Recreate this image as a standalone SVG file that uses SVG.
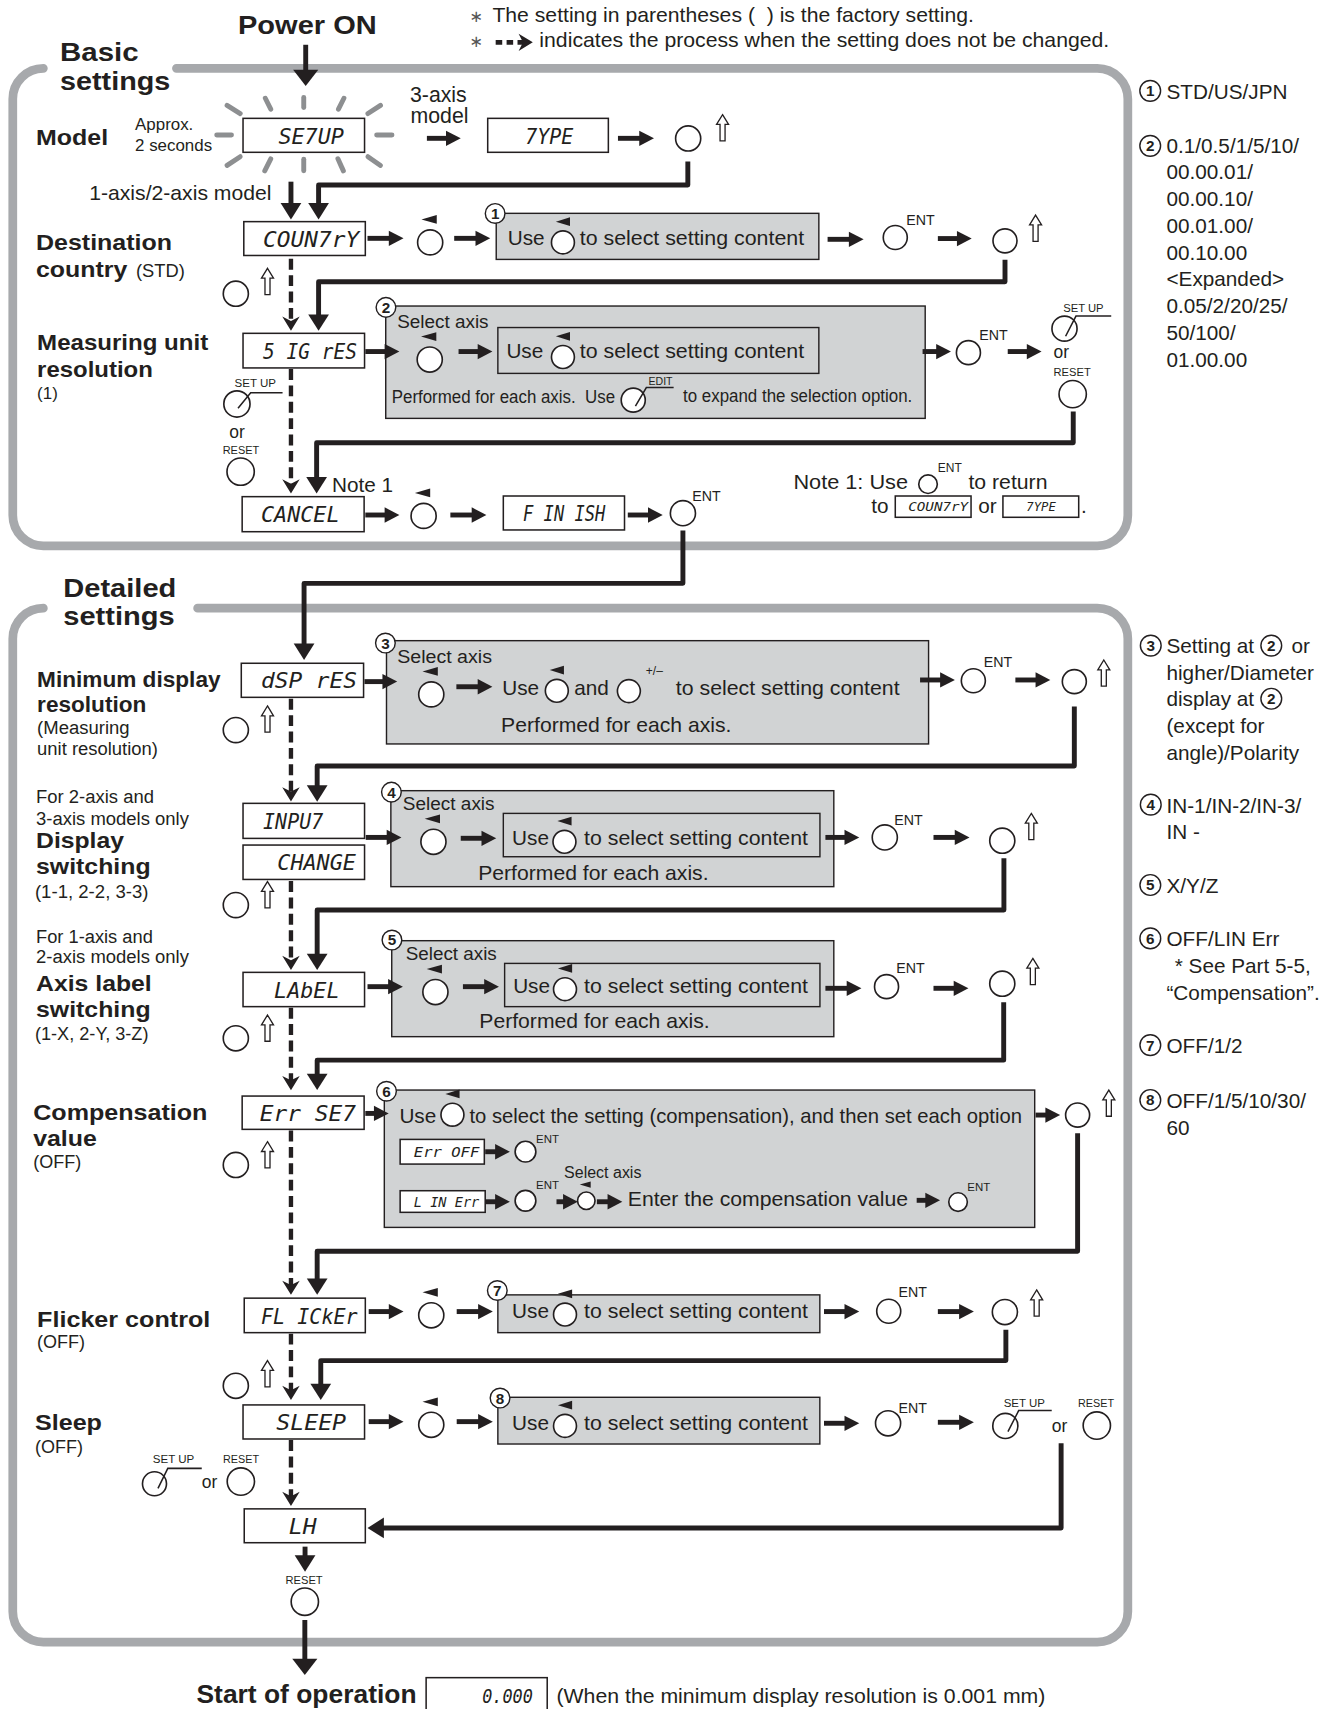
<svg xmlns="http://www.w3.org/2000/svg" xmlns:xlink="http://www.w3.org/1999/xlink" width="1332" height="1709" viewBox="0 0 1332 1709">
<defs>
<style>
.t{font-family:"Liberation Sans",Arial,sans-serif;fill:#231f20}
.ti{font-family:"Liberation Sans",Arial,sans-serif;fill:#231f20;font-size:21px;font-weight:bold}
.h{font-family:"Liberation Sans",Arial,sans-serif;fill:#231f20;font-size:23px;font-weight:bold}
.m{font-size:19px}
.s{font-size:16.5px}
.xs{font-size:10.5px}
.ent{font-size:13px}
.frame{fill:none;stroke:#a7a9ac;stroke-width:8;stroke-linecap:round}
.c{fill:none;stroke:#231f20;stroke-width:4.5;stroke-linejoin:round}
.dl{fill:none;stroke:#231f20;stroke-width:4;stroke-dasharray:10 5}
.disp{fill:#fff;stroke:#231f20;stroke-width:1.4}
.gb{fill:#d1d3d4;stroke:#231f20;stroke-width:1.3}
.btn{fill:#fff;stroke:#231f20;stroke-width:1.5}
.ray{stroke:#8d8f91;stroke-width:4.5;stroke-linecap:round}
.seg{font-family:"DejaVu Sans Mono","Liberation Mono",monospace;font-style:italic;fill:#231f20}
.cn{fill:#fff;stroke:#231f20;stroke-width:1.3}
.cd{font-family:"Liberation Sans",Arial,sans-serif;font-weight:bold;font-size:14px;text-anchor:middle;fill:#231f20}
.sl{fill:none;stroke:#231f20;stroke-width:1.4}
</style>
<marker id="ah" markerUnits="userSpaceOnUse" markerWidth="14" markerHeight="15" refX="7.5" refY="7.5" orient="auto" overflow="visible"><path d="M0,0.5 L13.5,7.5 L0,14.5 Z" fill="#231f20"/></marker>
<marker id="av" markerUnits="userSpaceOnUse" markerWidth="15" markerHeight="19" refX="9" refY="9.5" orient="auto" overflow="visible"><path d="M0,0 L15,9.5 L0,19 Z" fill="#231f20"/></marker>
<marker id="AB" markerUnits="userSpaceOnUse" markerWidth="15" markerHeight="23" refX="7" refY="11.5" orient="auto" overflow="visible"><path d="M0,0 L15,11.5 L0,23 Z" fill="#231f20"/></marker>
<marker id="dv" markerUnits="userSpaceOnUse" markerWidth="13" markerHeight="16" refX="6" refY="8" orient="auto" overflow="visible"><path d="M0,0 L13,8 L0,16 L4,8 Z" fill="#231f20"/></marker>
<path id="up" d="M0,0 L5.5,9 L2.3,9 L2.3,24 L-2.3,24 L-2.3,9 L-5.5,9 Z" fill="#fff" stroke="#231f20" stroke-width="1.2"/>
<circle id="bt" r="11.5" fill="#fff" stroke="#231f20" stroke-width="1.5"/>
<g id="kb"><circle r="11.5" fill="#fff" stroke="#231f20" stroke-width="1.5"/><path d="M-8,-21 L6,-25 L6,-17 Z" fill="#231f20"/></g>
<g id="kbs"><circle r="10.5" fill="#fff" stroke="#231f20" stroke-width="1.5"/><path d="M-6.5,-19 L6.5,-23 L6.5,-15 Z" fill="#231f20"/></g>
</defs>
<rect width="1332" height="1709" fill="#fff"/>
<g transform="scale(1.0918)">

<g id="frames">
<path class="frame" d="M39.7,62.6 A28,28 0 0 0 11.7,90.6 V472 A28,28 0 0 0 39.7,500 H1005 A28,28 0 0 0 1033,472 V90.6 A28,28 0 0 0 1005,62.6 H161.6"/>
<path class="frame" d="M39.7,557 A28,28 0 0 0 11.7,585 V1476 A28,28 0 0 0 39.7,1504 H1005 A28,28 0 0 0 1033,1476 V585 A28,28 0 0 0 1005,557 H181"/>
</g>

<g id="header">
<text class="h" x="218" y="31" font-size="25" textLength="127" lengthAdjust="spacingAndGlyphs">Power ON</text>
<text x="430" y="20" font-family="DejaVu Sans,sans-serif" font-size="15" fill="#555">∗</text>
<text class="t" x="451" y="20" font-size="18" textLength="441" lengthAdjust="spacingAndGlyphs">The setting in parentheses (&#160;&#160;) is the factory setting.</text>
<text x="430" y="43" font-family="DejaVu Sans,sans-serif" font-size="15" fill="#555">∗</text>
<path d="M454,38.8 H481" fill="none" stroke="#231f20" stroke-width="4.5" stroke-dasharray="6 4" marker-end="url(#dv)"/>
<text class="t" x="494" y="43" font-size="18" textLength="522" lengthAdjust="spacingAndGlyphs">indicates the process when the setting does not be changed.</text>
<text class="h" x="55" y="56" textLength="72" lengthAdjust="spacingAndGlyphs">Basic</text>
<text class="h" x="55" y="82" textLength="101" lengthAdjust="spacingAndGlyphs">settings</text>
<text class="h" x="58" y="546.5" textLength="103.5" lengthAdjust="spacingAndGlyphs">Detailed</text>
<text class="h" x="58" y="572.5" textLength="102" lengthAdjust="spacingAndGlyphs">settings</text>
</g>

<g id="node-model">
<text class="ti" x="33" y="133" textLength="66" lengthAdjust="spacingAndGlyphs">Model</text>
<text class="t" x="123.7" y="119" font-size="15.5">Approx.</text>
<text class="t" x="123.7" y="138.3" font-size="15.5">2 seconds</text>
<line class="ray" x1="208" y1="96.5" x2="220" y2="104"/>
<line class="ray" x1="243" y1="90" x2="248" y2="100"/>
<line class="ray" x1="278.2" y1="89.3" x2="278.2" y2="98.5"/>
<line class="ray" x1="315" y1="90" x2="310" y2="100"/>
<line class="ray" x1="348.5" y1="96.5" x2="337" y2="104"/>
<line class="ray" x1="208" y1="151.5" x2="220" y2="143.5"/>
<line class="ray" x1="242.5" y1="156.5" x2="248" y2="145.5"/>
<line class="ray" x1="278.2" y1="145.8" x2="278.2" y2="156.5"/>
<line class="ray" x1="314.5" y1="156.5" x2="309.5" y2="145.5"/>
<line class="ray" x1="348.5" y1="151.5" x2="337" y2="143.5"/>
<line class="ray" x1="198.5" y1="123.7" x2="212" y2="123.7"/>
<line class="ray" x1="345" y1="123.7" x2="359" y2="123.7"/>
<rect class="disp" x="222.6" y="108.4" width="111.3" height="31.1"/>
<text class="seg" x="255" y="131.5" font-size="20" textLength="60" lengthAdjust="spacingAndGlyphs">SE7UP</text>
<text class="t" x="375.5" y="93" font-size="19.5">3-axis</text>
<text class="t" x="376" y="113" font-size="19.5">model</text>
<rect class="disp" x="446.7" y="108.4" width="110.5" height="31.1"/>
<text class="seg" x="481" y="131.5" font-size="20" textLength="44" lengthAdjust="spacingAndGlyphs">7YPE</text>
<use href="#bt" x="630.3" y="126.8"/>
<use href="#up" x="661.8" y="105"/>
<text class="t" x="81.7" y="183.5" font-size="19" textLength="167" lengthAdjust="spacingAndGlyphs">1-axis/2-axis model</text>
</g>

<g id="node-country">
<text class="ti" x="33" y="229" textLength="124.6" lengthAdjust="spacingAndGlyphs">Destination</text>
<text class="ti" x="33" y="253.5" textLength="83.7" lengthAdjust="spacingAndGlyphs">country</text>
<text class="t" x="124.5" y="253.5" font-size="16.8">(STD)</text>
<rect class="disp" x="223.3" y="203" width="111.3" height="31"/>
<text class="seg" x="241" y="226" font-size="20" textLength="88" lengthAdjust="spacingAndGlyphs">COUN7rY</text>
<use href="#kb" x="394" y="222"/>
<rect class="gb" x="454.5" y="195.4" width="295.5" height="42.2"/>
<circle class="cn" cx="453.5" cy="195.5" r="9"/><text class="cd" x="453.5" y="200.5">1</text>
<text class="t m" x="465" y="224.5">Use</text>
<use href="#kbs" x="515.6" y="222"/>
<text class="t m" x="531" y="224.5" textLength="205.5" lengthAdjust="spacingAndGlyphs">to select setting content</text>
<circle class="btn" cx="820" cy="217.5" r="11"/>
<text class="t ent" x="830" y="206">ENT</text>
<circle class="btn" cx="920.5" cy="220.6" r="11"/>
<use href="#up" x="948.5" y="197"/>
<use href="#bt" x="216" y="269"/>
<use href="#up" x="245" y="245.8"/>
</g>

<g id="node-sigres">
<text class="ti" x="34" y="320.6" textLength="156.7" lengthAdjust="spacingAndGlyphs">Measuring unit</text>
<text class="ti" x="34" y="345" textLength="106" lengthAdjust="spacingAndGlyphs">resolution</text>
<text class="t" x="34" y="365" font-size="15.5">(1)</text>
<rect class="disp" x="222.6" y="305.3" width="111.3" height="31.7"/>
<text class="seg" x="241" y="328.7" font-size="20" textLength="86" lengthAdjust="spacingAndGlyphs">5 IG rES</text>
<rect class="gb" x="353.3" y="280.3" width="494.1" height="102.9"/>
<circle class="cn" cx="353.5" cy="281.5" r="9"/><text class="cd" x="353.5" y="286.5">2</text>
<text class="t" x="363.8" y="300.8" font-size="17.5" textLength="83.7" lengthAdjust="spacingAndGlyphs">Select axis</text>
<use href="#kb" x="393.6" y="329.3"/>
<rect class="gb" x="456" y="300" width="294" height="42"/>
<text class="t m" x="463.8" y="328.2">Use</text>
<use href="#kbs" x="515.6" y="327"/>
<text class="t m" x="531" y="328.2" textLength="205.5" lengthAdjust="spacingAndGlyphs">to select setting content</text>
<text class="t" x="358.8" y="369.5" font-size="17" textLength="204.6" lengthAdjust="spacingAndGlyphs">Performed for each axis.&#160;&#160;Use</text>
<circle class="btn" cx="580" cy="366.5" r="11"/>
<polyline class="sl" points="582,372 592,355 617,355"/>
<text class="t" x="594" y="352.5" font-size="10" textLength="22" lengthAdjust="spacingAndGlyphs">EDIT</text>
<text class="t" x="625.6" y="368" font-size="17" textLength="210" lengthAdjust="spacingAndGlyphs">to expand the selection option.</text>
<circle class="btn" cx="887" cy="323" r="11"/>
<text class="t ent" x="897" y="311.5">ENT</text>
<circle class="btn" cx="975" cy="301" r="11.5"/>
<polyline class="sl" points="976,308 985.5,289.5 1017.8,289.5"/>
<text class="t xs" x="973.8" y="285.5" textLength="37" lengthAdjust="spacingAndGlyphs">SET UP</text>
<text class="t" x="965" y="328" font-size="16">or</text>
<text class="t xs" x="965" y="344.4" textLength="34" lengthAdjust="spacingAndGlyphs">RESET</text>
<circle class="btn" cx="982.5" cy="361" r="12.5"/>
<circle class="btn" cx="217" cy="370" r="12"/>
<polyline class="sl" points="218,374 229.6,359.7 258.8,359.7"/>
<text class="t xs" x="214.8" y="354.8" textLength="38" lengthAdjust="spacingAndGlyphs">SET UP</text>
<text class="t" x="210" y="401" font-size="16">or</text>
<text class="t xs" x="204" y="415.5" textLength="33.4" lengthAdjust="spacingAndGlyphs">RESET</text>
<circle class="btn" cx="220.4" cy="432" r="12.5"/>
</g>

<g id="node-cancel">
<text class="t m" x="304" y="450.3">Note 1</text>
<rect class="disp" x="221.8" y="454.9" width="111.7" height="32.1"/>
<text class="seg" x="239" y="478.5" font-size="20" textLength="72" lengthAdjust="spacingAndGlyphs">CANCEL</text>
<use href="#kb" x="388" y="472.5"/>
<rect class="disp" x="461" y="454.3" width="111" height="31.1"/>
<text class="seg" x="479" y="477.4" font-size="20" textLength="75.5" lengthAdjust="spacingAndGlyphs">F IN ISH</text>
<circle class="btn" cx="625.5" cy="470" r="11.5"/>
<text class="t ent" x="634" y="458.5">ENT</text>
<text class="t m" x="726.7" y="448" textLength="105" lengthAdjust="spacingAndGlyphs">Note 1: Use</text>
<circle class="btn" cx="850" cy="443.5" r="8.5"/>
<text class="t" x="859" y="432" font-size="11">ENT</text>
<text class="t m" x="887" y="448" textLength="72.4" lengthAdjust="spacingAndGlyphs">to return</text>
<text class="t m" x="798" y="470">to</text>
<rect class="disp" x="820" y="454.3" width="69.4" height="19.5"/>
<text class="seg" x="831.8" y="468" font-size="11" textLength="55" lengthAdjust="spacingAndGlyphs">COUN7rY</text>
<text class="t m" x="896" y="470">or</text>
<rect class="disp" x="918.6" y="454.3" width="69.4" height="19.5"/>
<text class="seg" x="940" y="468" font-size="11" textLength="27" lengthAdjust="spacingAndGlyphs">7YPE</text>
<text class="t m" x="990" y="470">.</text>
</g>

<g id="node-dspres">
<text class="ti" x="34" y="629" textLength="168" lengthAdjust="spacingAndGlyphs">Minimum display</text>
<text class="ti" x="34" y="652" textLength="100" lengthAdjust="spacingAndGlyphs">resolution</text>
<text class="t s" x="34" y="672.3" textLength="84.7" lengthAdjust="spacingAndGlyphs">(Measuring</text>
<text class="t s" x="34" y="691.5" textLength="110.7" lengthAdjust="spacingAndGlyphs">unit resolution)</text>
<rect class="disp" x="221" y="607.5" width="112" height="31.2"/>
<text class="seg" x="239" y="630.6" font-size="20" textLength="88" lengthAdjust="spacingAndGlyphs">dSP rES</text>
<rect class="gb" x="354" y="586.8" width="496.5" height="94.6"/>
<circle class="cn" cx="353" cy="589" r="9"/><text class="cd" x="353" y="594">3</text>
<text class="t" x="363.8" y="607.5" font-size="17.5" textLength="86.8" lengthAdjust="spacingAndGlyphs">Select axis</text>
<use href="#kb" x="395" y="636"/>
<text class="t m" x="460" y="636.5">Use</text>
<use href="#kbs" x="510" y="632.7"/>
<text class="t m" x="526" y="636.5">and</text>
<circle class="btn" cx="576" cy="633" r="10.5"/>
<text class="t" x="591.5" y="618" font-size="11">+/–</text>
<text class="t m" x="619" y="636.5" textLength="205" lengthAdjust="spacingAndGlyphs">to select setting content</text>
<text class="t m" x="459" y="670" textLength="211" lengthAdjust="spacingAndGlyphs">Performed for each axis.</text>
<circle class="btn" cx="891.5" cy="623.5" r="11"/>
<text class="t ent" x="901" y="610.6">ENT</text>
<circle class="btn" cx="984" cy="624.3" r="11"/>
<use href="#up" x="1011" y="604.5"/>
<use href="#bt" x="216" y="668.7"/>
<use href="#up" x="245" y="646.6"/>
</g>

<g id="node-input">
<text class="t s" x="33" y="735.8" textLength="108" lengthAdjust="spacingAndGlyphs">For 2-axis and</text>
<text class="t s" x="33" y="755.6" textLength="140" lengthAdjust="spacingAndGlyphs">3-axis models only</text>
<text class="ti" x="33" y="777" textLength="80.6" lengthAdjust="spacingAndGlyphs">Display</text>
<text class="ti" x="33" y="800.5" textLength="105" lengthAdjust="spacingAndGlyphs">switching</text>
<text class="t" x="32" y="822.8" font-size="16" textLength="104" lengthAdjust="spacingAndGlyphs">(1-1, 2-2, 3-3)</text>
<rect class="disp" x="222.6" y="735.8" width="111.3" height="32.1"/>
<text class="seg" x="241" y="759.4" font-size="20" textLength="55" lengthAdjust="spacingAndGlyphs">INPU7</text>
<rect class="disp" x="222.6" y="774" width="111.3" height="31.5"/>
<text class="seg" x="254" y="797.3" font-size="20" textLength="72" lengthAdjust="spacingAndGlyphs">CHANGE</text>
<rect class="gb" x="358" y="724.2" width="405.7" height="87.9"/>
<circle class="cn" cx="358.5" cy="725.5" r="9"/><text class="cd" x="358.5" y="730.5">4</text>
<text class="t" x="369" y="741.9" font-size="17.5" textLength="84" lengthAdjust="spacingAndGlyphs">Select axis</text>
<use href="#kb" x="397" y="771"/>
<rect class="gb" x="461" y="745" width="290" height="39.7"/>
<text class="t m" x="469" y="774">Use</text>
<use href="#kbs" x="517" y="771"/>
<text class="t m" x="535" y="774" textLength="205" lengthAdjust="spacingAndGlyphs">to select setting content</text>
<text class="t m" x="438" y="806" textLength="211" lengthAdjust="spacingAndGlyphs">Performed for each axis.</text>
<circle class="btn" cx="810.4" cy="767" r="11.5"/>
<text class="t ent" x="819" y="755.6">ENT</text>
<use href="#bt" x="918" y="770"/>
<use href="#up" x="944.6" y="745"/>
<use href="#bt" x="216" y="829"/>
<use href="#up" x="245" y="807.5"/>
</g>

<g id="node-label">
<text class="t s" x="33" y="863.4" textLength="107" lengthAdjust="spacingAndGlyphs">For 1-axis and</text>
<text class="t s" x="33" y="882.4" textLength="140" lengthAdjust="spacingAndGlyphs">2-axis models only</text>
<text class="ti" x="33" y="907.4" textLength="106" lengthAdjust="spacingAndGlyphs">Axis label</text>
<text class="ti" x="33" y="931.2" textLength="105" lengthAdjust="spacingAndGlyphs">switching</text>
<text class="t" x="32" y="952.6" font-size="16" textLength="104" lengthAdjust="spacingAndGlyphs">(1-X, 2-Y, 3-Z)</text>
<rect class="disp" x="222.6" y="890.6" width="111.3" height="31.4"/>
<text class="seg" x="251" y="913.8" font-size="20" textLength="60" lengthAdjust="spacingAndGlyphs">LAbEL</text>
<rect class="gb" x="358.8" y="861.6" width="404.9" height="87.9"/>
<circle class="cn" cx="359" cy="861" r="9"/><text class="cd" x="359" y="866">5</text>
<text class="t" x="371.6" y="879.3" font-size="17.5" textLength="83.4" lengthAdjust="spacingAndGlyphs">Select axis</text>
<use href="#kb" x="398.8" y="908.6"/>
<rect class="gb" x="462.2" y="882.4" width="288.8" height="39.6"/>
<text class="t m" x="470" y="909.8">Use</text>
<use href="#kbs" x="517.5" y="906"/>
<text class="t m" x="535" y="909.8" textLength="205" lengthAdjust="spacingAndGlyphs">to select setting content</text>
<text class="t m" x="439" y="941.9" textLength="211" lengthAdjust="spacingAndGlyphs">Performed for each axis.</text>
<circle class="btn" cx="812" cy="903.7" r="11"/>
<text class="t ent" x="821" y="891.5">ENT</text>
<use href="#bt" x="918" y="901"/>
<use href="#up" x="946" y="877.8"/>
<use href="#bt" x="216" y="951"/>
<use href="#up" x="245" y="929.7"/>
</g>

<g id="node-errset">
<text class="ti" x="30.4" y="1026" textLength="159.6" lengthAdjust="spacingAndGlyphs">Compensation</text>
<text class="ti" x="30.4" y="1049.5" textLength="58.3" lengthAdjust="spacingAndGlyphs">value</text>
<text class="t s" x="30.4" y="1070">(OFF)</text>
<rect class="disp" x="221.8" y="1003.9" width="111.7" height="30.5"/>
<text class="seg" x="238" y="1026.7" font-size="20" textLength="88" lengthAdjust="spacingAndGlyphs">Err SE7</text>
<rect class="gb" x="352" y="998.4" width="595.7" height="125.8"/>
<circle class="cn" cx="354" cy="999.5" r="9"/><text class="cd" x="354" y="1004.5">6</text>
<text class="t m" x="365.8" y="1029">Use</text>
<use href="#kbs" x="414.4" y="1021"/>
<text class="t m" x="430" y="1029" textLength="506" lengthAdjust="spacingAndGlyphs">to select the setting (compensation), and then set each option</text>
<rect class="disp" x="366.5" y="1043.6" width="77.1" height="22.6"/>
<text class="seg" x="379" y="1060" font-size="13" textLength="60" lengthAdjust="spacingAndGlyphs">Err OFF</text>
<circle class="btn" cx="481.3" cy="1054.8" r="9.5"/>
<text class="t" x="491" y="1046.6" font-size="10.5">ENT</text>
<text class="t" x="516.7" y="1079.3" font-size="14.5" textLength="70.8" lengthAdjust="spacingAndGlyphs">Select axis</text>
<rect class="disp" x="366.5" y="1090.6" width="77.9" height="19.8"/>
<text class="seg" x="379" y="1105.5" font-size="13" textLength="60" lengthAdjust="spacingAndGlyphs">L IN Err</text>
<circle class="btn" cx="481.3" cy="1099.8" r="9.5"/>
<text class="t" x="491" y="1089.4" font-size="10.5">ENT</text>
<circle class="btn" cx="537" cy="1099.8" r="8"/>
<path d="M531,1085 L541,1082.2 L541,1087.8 Z" fill="#231f20"/>
<text class="t m" x="575" y="1105" textLength="256.8" lengthAdjust="spacingAndGlyphs">Enter the compensation value</text>
<circle class="btn" cx="877.5" cy="1101" r="8.5"/>
<text class="t" x="886" y="1090.6" font-size="10.5">ENT</text>
<circle class="btn" cx="987" cy="1021.3" r="11"/>
<use href="#up" x="1015.6" y="998.4"/>
<use href="#bt" x="216" y="1067"/>
<use href="#up" x="245" y="1045.7"/>
</g>

<g id="node-flicker">
<text class="ti" x="34" y="1215" textLength="158.6" lengthAdjust="spacingAndGlyphs">Flicker control</text>
<text class="t s" x="34" y="1235">(OFF)</text>
<rect class="disp" x="223.7" y="1189" width="110.9" height="31.6"/>
<text class="seg" x="239" y="1212.3" font-size="20" textLength="88.6" lengthAdjust="spacingAndGlyphs">FL ICkEr</text>
<use href="#kb" x="395" y="1204.7"/>
<rect class="gb" x="456" y="1186" width="294.9" height="34.6"/>
<circle class="cn" cx="455.5" cy="1182" r="9"/><text class="cd" x="455.5" y="1187">7</text>
<text class="t m" x="469" y="1207.4">Use</text>
<use href="#kbs" x="517.5" y="1204"/>
<text class="t m" x="535" y="1207.4" textLength="205" lengthAdjust="spacingAndGlyphs">to select setting content</text>
<circle class="btn" cx="814" cy="1201" r="11"/>
<text class="t ent" x="823" y="1188.2">ENT</text>
<use href="#bt" x="920.4" y="1201.7"/>
<use href="#up" x="949.5" y="1181.5"/>
<use href="#bt" x="216" y="1269.3"/>
<use href="#up" x="245" y="1246.2"/>
</g>

<g id="node-sleep">
<text class="ti" x="32" y="1309.7" textLength="61.4" lengthAdjust="spacingAndGlyphs">Sleep</text>
<text class="t s" x="32" y="1331">(OFF)</text>
<rect class="disp" x="222.6" y="1286.8" width="111.3" height="31.2"/>
<text class="seg" x="253" y="1309.9" font-size="20" textLength="64" lengthAdjust="spacingAndGlyphs">SLEEP</text>
<use href="#kb" x="395" y="1305"/>
<rect class="gb" x="456" y="1279.8" width="294.9" height="42.8"/>
<circle class="cn" cx="458" cy="1280.5" r="9"/><text class="cd" x="458" y="1285.5">8</text>
<text class="t m" x="469" y="1309.7">Use</text>
<use href="#kbs" x="517.5" y="1306"/>
<text class="t m" x="535" y="1309.7" textLength="205" lengthAdjust="spacingAndGlyphs">to select setting content</text>
<circle class="btn" cx="813.4" cy="1303.6" r="11.5"/>
<text class="t ent" x="823" y="1293.9">ENT</text>
<circle class="btn" cx="920.8" cy="1306" r="11.5"/>
<polyline class="sl" points="923.2,1311.3 933,1292 963.3,1292"/>
<text class="t xs" x="919.3" y="1289" textLength="37.7" lengthAdjust="spacingAndGlyphs">SET UP</text>
<text class="t" x="963.3" y="1311.3" font-size="16">or</text>
<text class="t xs" x="987.4" y="1288.4" textLength="33" lengthAdjust="spacingAndGlyphs">RESET</text>
<circle class="btn" cx="1004.6" cy="1305.7" r="12.5"/>
<text class="t xs" x="140" y="1340.3" textLength="38" lengthAdjust="spacingAndGlyphs">SET UP</text>
<circle class="btn" cx="141.5" cy="1359" r="11"/>
<polyline class="sl" points="144.7,1363.2 153.7,1344.9 184.8,1344.9"/>
<text class="t" x="184.8" y="1363.2" font-size="16">or</text>
<text class="t xs" x="204.3" y="1339.7" textLength="33" lengthAdjust="spacingAndGlyphs">RESET</text>
<circle class="btn" cx="220.6" cy="1357" r="12.5"/>
</g>

<g id="node-lh">
<rect class="disp" x="223.7" y="1382" width="110.9" height="31"/>
<text class="seg" x="264.6" y="1405" font-size="20" textLength="25.4" lengthAdjust="spacingAndGlyphs">LH</text>
<text class="t xs" x="261.5" y="1450.8" textLength="34" lengthAdjust="spacingAndGlyphs">RESET</text>
<circle class="btn" cx="279.2" cy="1467" r="12.5"/>
</g>

<g id="node-start">
<text class="t" x="180" y="1560" font-size="24" font-weight="bold" textLength="201.5" lengthAdjust="spacingAndGlyphs">Start of operation</text>
<rect class="disp" x="390.3" y="1536.6" width="110.9" height="33"/>
<text class="seg" x="441.6" y="1559.5" font-size="17" textLength="46.4" lengthAdjust="spacingAndGlyphs">0.000</text>
<text class="t" x="509.7" y="1560" font-size="18.5" textLength="447.8" lengthAdjust="spacingAndGlyphs">(When the minimum display resolution is 0.001 mm)</text>
</g>

<g id="notes">
<circle class="cn" cx="1053.5" cy="83.2" r="9.5"/><text class="cd" x="1053.5" y="88.2">1</text>
<text class="t m" x="1068.4" y="90.7">STD/US/JPN</text>
<circle class="cn" cx="1053.5" cy="133.6" r="9.5"/><text class="cd" x="1053.5" y="138.6">2</text>
<text class="t m" x="1068.4" y="139.8">0.1/0.5/1/5/10/</text>
<text class="t m" x="1068.4" y="164.3">00.00.01/</text>
<text class="t m" x="1068.4" y="188.8">00.00.10/</text>
<text class="t m" x="1068.4" y="213.3">00.01.00/</text>
<text class="t m" x="1068.4" y="237.8">00.10.00</text>
<text class="t m" x="1068.4" y="262.3">&lt;Expanded&gt;</text>
<text class="t m" x="1068.4" y="286.8">0.05/2/20/25/</text>
<text class="t m" x="1068.4" y="311.3">50/100/</text>
<text class="t m" x="1068.4" y="335.8">01.00.00</text>
<circle class="cn" cx="1054" cy="591.3" r="9.5"/><text class="cd" x="1054" y="596.3">3</text>
<text class="t m" x="1068.4" y="598.4">Setting at</text>
<circle class="cn" cx="1164.4" cy="591.3" r="9.5"/><text class="cd" x="1164.4" y="596.3">2</text>
<text class="t m" x="1182.8" y="598.4">or</text>
<text class="t m" x="1068.4" y="622.8">higher/Diameter</text>
<text class="t m" x="1068.4" y="647">display at</text>
<circle class="cn" cx="1164.4" cy="640" r="9.5"/><text class="cd" x="1164.4" y="645">2</text>
<text class="t m" x="1068.4" y="671.5">(except for</text>
<text class="t m" x="1068.4" y="696">angle)/Polarity</text>
<circle class="cn" cx="1054" cy="737" r="9.5"/><text class="cd" x="1054" y="742">4</text>
<text class="t m" x="1068.4" y="744.3">IN-1/IN-2/IN-3/</text>
<text class="t m" x="1068.4" y="768.8">IN -</text>
<circle class="cn" cx="1053.6" cy="810.6" r="9.5"/><text class="cd" x="1053.6" y="815.6">5</text>
<text class="t m" x="1068.4" y="817.6">X/Y/Z</text>
<circle class="cn" cx="1053.6" cy="859.5" r="9.5"/><text class="cd" x="1053.6" y="864.5">6</text>
<text class="t m" x="1068.4" y="866.5">OFF/LIN Err</text>
<text class="t m" x="1076" y="891.2">* See Part 5-5,</text>
<text class="t m" x="1068.4" y="916">“Compensation”.</text>
<circle class="cn" cx="1053.6" cy="957.2" r="9.5"/><text class="cd" x="1053.6" y="962.2">7</text>
<text class="t m" x="1068.4" y="964.2">OFF/1/2</text>
<circle class="cn" cx="1053.6" cy="1007.5" r="9.5"/><text class="cd" x="1053.6" y="1012.5">8</text>
<text class="t m" x="1068.4" y="1015.2">OFF/1/5/10/30/</text>
<text class="t m" x="1068.4" y="1039.6">60</text>
</g>

<g id="connectors">
<path class="c" d="M280,41 V70.8" stroke-width="8.5" marker-end="url(#AB)"/>
<path class="c" d="M279.2,1483.8 V1526.2" stroke-width="8.5" marker-end="url(#AB)"/>
<path class="c" d="M279.4,1416.6 V1433.5" marker-end="url(#av)"/>
<path class="c" d="M266.5,166.4 V195" marker-end="url(#av)"/>
<path class="c" d="M630,148 V169.5 H291.8 V195" marker-end="url(#av)"/>
<path class="c" d="M920.5,238 V258 H291.8 V297" marker-end="url(#av)"/>
<path class="c" d="M983,377 V405.5 H290 V446" marker-end="url(#av)"/>
<path class="c" d="M625.5,486 V534.3 H278.5 V598.5" marker-end="url(#av)"/>
<path class="c" d="M984,647 V701.6 H290.5 V728.3" marker-end="url(#av)"/>
<path class="c" d="M919.5,786 V833.5 H290.5 V882.5" marker-end="url(#av)"/>
<path class="c" d="M919.3,918 V971 H290.5 V992.4" marker-end="url(#av)"/>
<path class="c" d="M987,1038 V1146 H290.5 V1180" marker-end="url(#av)"/>
<path class="c" d="M921.3,1218 V1246.2 H293.8 V1276.3" marker-end="url(#av)"/>
<path class="c" d="M971.9,1322 V1399.5 H342.6" marker-end="url(#av)"/>
<path class="dl" d="M266.5,237 V296" marker-end="url(#dv)"/>
<path class="dl" d="M266.5,338 V445" marker-end="url(#dv)"/>
<path class="dl" d="M266.5,640 V727" marker-end="url(#dv)"/>
<path class="dl" d="M266.5,807 V881.5" marker-end="url(#dv)"/>
<path class="dl" d="M266.5,923 V991.5" marker-end="url(#dv)"/>
<path class="dl" d="M266.5,1035.5 V1179" marker-end="url(#dv)"/>
<path class="dl" d="M266.5,1221.5 V1275.3" marker-end="url(#dv)"/>
<path class="dl" d="M266.5,1319 V1372.4" marker-end="url(#dv)"/>
<path class="c" d="M391,126.7 H416" marker-end="url(#ah)"/>
<path class="c" d="M566,126.7 H593" marker-end="url(#ah)"/>
<path class="c" d="M336.6,218.3 H363.6" marker-end="url(#ah)"/>
<path class="c" d="M416,218.3 H443" marker-end="url(#ah)"/>
<path class="c" d="M758,219.2 H785" marker-end="url(#ah)"/>
<path class="c" d="M859,218.5 H884" marker-end="url(#ah)"/>
<path class="c" d="M334.6,322 H359.8" marker-end="url(#ah)"/>
<path class="c" d="M420,322 H445" marker-end="url(#ah)"/>
<path class="c" d="M845,322 H865" marker-end="url(#ah)"/>
<path class="c" d="M923,322 H948" marker-end="url(#ah)"/>
<path class="c" d="M334.6,471.7 H359.8" marker-end="url(#ah)"/>
<path class="c" d="M412.5,471.7 H439.5" marker-end="url(#ah)"/>
<path class="c" d="M575,471.7 H601" marker-end="url(#ah)"/>
<path class="c" d="M333.8,624.3 H357.8" marker-end="url(#ah)"/>
<path class="c" d="M418,629 H445" marker-end="url(#ah)"/>
<path class="c" d="M842.7,622.8 H868.6" marker-end="url(#ah)"/>
<path class="c" d="M930,622.8 H956" marker-end="url(#ah)"/>
<path class="c" d="M335,767 H361.7" marker-end="url(#ah)"/>
<path class="c" d="M422,767.8 H448.5" marker-end="url(#ah)"/>
<path class="c" d="M756,767 H781" marker-end="url(#ah)"/>
<path class="c" d="M855,767 H882" marker-end="url(#ah)"/>
<path class="c" d="M336.6,903.7 H363" marker-end="url(#ah)"/>
<path class="c" d="M424,903.7 H451" marker-end="url(#ah)"/>
<path class="c" d="M756,905.2 H783" marker-end="url(#ah)"/>
<path class="c" d="M855,905.2 H881" marker-end="url(#ah)"/>
<path class="c" d="M334.6,1019.8 H350" marker-end="url(#ah)"/>
<path class="c" d="M948.5,1021.3 H965" marker-end="url(#ah)"/>
<path class="c" d="M444.4,1054.9 H461" marker-end="url(#ah)"/>
<path class="c" d="M444.4,1100.7 H461" marker-end="url(#ah)"/>
<path class="c" d="M509.7,1100.7 H523.2" stroke-width="3.5" marker-end="url(#ah)"/>
<path class="c" d="M546.7,1100.7 H564" marker-end="url(#ah)"/>
<path class="c" d="M839.6,1099.4 H855" marker-end="url(#ah)"/>
<path class="c" d="M337.7,1201.3 H363.6" marker-end="url(#ah)"/>
<path class="c" d="M418.3,1201.3 H445.4" marker-end="url(#ah)"/>
<path class="c" d="M754.7,1201.3 H781" marker-end="url(#ah)"/>
<path class="c" d="M859,1201.3 H886" marker-end="url(#ah)"/>
<path class="c" d="M337.7,1302.1 H363.6" marker-end="url(#ah)"/>
<path class="c" d="M418.3,1302.1 H445.4" marker-end="url(#ah)"/>
<path class="c" d="M754.7,1303.6 H781" marker-end="url(#ah)"/>
<path class="c" d="M859,1302.7 H886" marker-end="url(#ah)"/>
</g>
</g>
</svg>
